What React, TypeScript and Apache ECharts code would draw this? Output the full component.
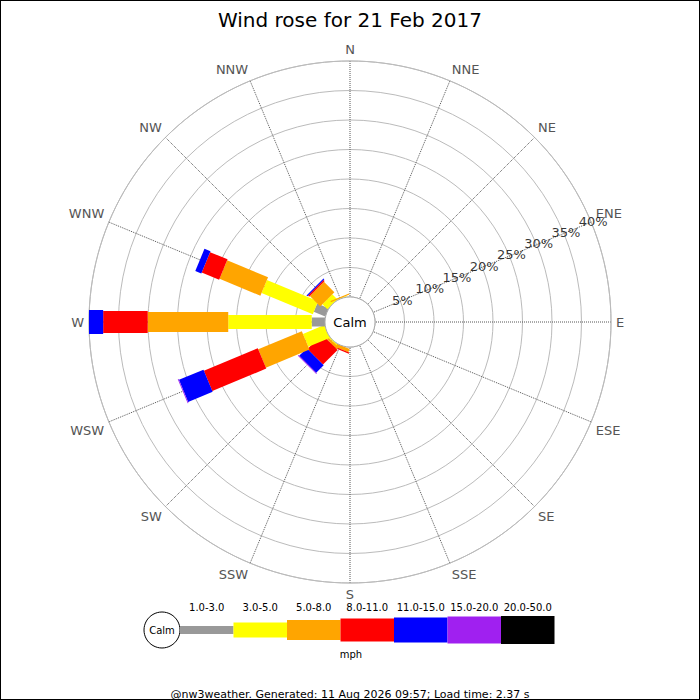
import { useEffect, useRef } from "react";
import * as echarts from "echarts";

const FONT = "DejaVu Sans";

// 16 compass points, clockwise from north
const DIRS = ["N", "NNE", "NE", "ENE", "E", "ESE", "SE", "SSE", "S", "SSW", "SW", "WSW", "W", "WNW", "NW", "NNW"];
const STEP = 360 / DIRS.length;
const RINGS = [5, 10, 15, 20, 25, 30, 35, 40];
const RING_LABELS = ["5%", "10%", "15%", "20%", "25%", "30%", "35%", "40%"];

const BIN_LABELS = ["1.0-3.0", "3.0-5.0", "5.0-8.0", "8.0-11.0", "11.0-15.0", "15.0-20.0", "20.0-50.0"];
const BIN_COLORS = ["#999999", "#ffff00", "#ffa500", "#ff0000", "#0000ff", "#a020f0", "#000000"];
const BAR_WIDTHS = [9, 14, 20, 22, 24, 26, 28];
const LEG_HEIGHTS = [8, 15, 20, 23, 25, 27, 28];

// % of time per direction, one array per speed bin (order = DIRS)
const S_1_3   = [0, 0, 0, 0, 0, 0, 0, 0, 0, 0,   0,    0,    2.25,  2.1, 0,    0];
const S_3_5   = [0, 0, 0, 0, 0, 0, 0, 0, 0, 0,   0.2,  3.9,  14.15, 9.4, 1.2,  0.1];
const S_5_8   = [0, 0, 0, 0, 0, 0, 0, 0, 0, 0.6, 0.4,  8.0,  13.65, 7.5, 2.5,  0.2];
const S_8_11  = [0, 0, 0, 0, 0, 0, 0, 0, 0, 0.2, 3.5,  9.9,  7.55,  3.2, 0.25, 0];
const S_11_15 = [0, 0, 0, 0, 0, 0, 0, 0, 0, 0,   1.8,  4.5,  2.4,   1.1, 0.2,  0];
const S_15_20 = [0, 0, 0, 0, 0, 0, 0, 0, 0, 0,   0.15, 0.15, 0,     0,   0,    0];
const S_20_50 = [0, 0, 0, 0, 0, 0, 0, 0, 0, 0,   0,    0,    0,     0,   0,    0];
const BINS = [S_1_3, S_3_5, S_5_8, S_8_11, S_11_15, S_15_20, S_20_50];

const TITLE = "Wind rose for 21 Feb 2017";
const FOOTER = "@nw3weather. Generated: 11 Aug 2026 09:57; Load time: 2.37 s";

const centered = { align: "center", verticalAlign: "middle", textAlign: "center", textVerticalAlign: "middle" };

export default function App() {
  const ref = useRef<HTMLDivElement>(null);

  useEffect(() => {
    if (!ref.current) return;
    const chart = echarts.init(ref.current, undefined, { renderer: "svg" });

    // stacked segments: [end, angle, start, binIndex]
    const segs: number[][] = [];
    DIRS.forEach((_, d) => {
      let acc = 0;
      BINS.forEach((bin, k) => {
        const v = bin[d];
        if (v > 0) segs.push([acc + v, d * STEP, acc, k]);
        acc += v;
      });
    });

    // speed key below the rose
    const legX0 = 180, legW = 53.5, legCY = 630;
    const legend: any[] = [
      { type: "circle", shape: { cx: 162, cy: legCY, r: 18 }, style: { fill: "#fff", stroke: "#000", lineWidth: 1 } },
      { type: "text", x: 162, y: legCY, style: { text: "Calm", ...centered, font: `10px ${FONT}`, fill: "#000" } },
    ];
    BIN_LABELS.forEach((lab, k) => {
      legend.push({
        type: "rect",
        shape: { x: legX0 + k * legW, y: legCY - LEG_HEIGHTS[k] / 2, width: legW, height: LEG_HEIGHTS[k] },
        style: { fill: BIN_COLORS[k] },
      });
      legend.push({
        type: "text", x: legX0 + (k + 0.5) * legW, y: 607,
        style: { text: lab, ...centered, font: `10px ${FONT}`, fill: "#000" },
      });
    });
    legend.push({ type: "text", x: 351, y: 654, style: { text: "mph", ...centered, font: `10px ${FONT}`, fill: "#000" } });

    chart.setOption({
      animation: false,
      backgroundColor: "#fff",
      textStyle: { fontFamily: FONT },
      title: [
        { text: TITLE, left: "center", top: 5, textStyle: { fontSize: 20, fontWeight: "normal", color: "#000", fontFamily: FONT } },
        { text: FOOTER, left: "center", top: 684, textStyle: { fontSize: 11, fontWeight: "normal", color: "#000", fontFamily: FONT } },
      ],
      polar: { center: [350, 322], radius: [25, 261] },
      angleAxis: {
        type: "value",
        min: 0, max: 360, interval: STEP,
        startAngle: 90,
        clockwise: true,
        axisLine: { show: true, lineStyle: { color: "#bbb", width: 1 } },
        axisTick: { show: false },
        axisLabel: {
          color: "#555", fontSize: 13, margin: 5, fontFamily: FONT,
          formatter: (v: number) => DIRS[Math.round(v / STEP) % DIRS.length],
        },
        splitLine: { show: true, lineStyle: { color: "#555", type: "dotted", width: 1 } },
      },
      radiusAxis: {
        type: "value",
        min: 0, max: 40, interval: 5,
        axisLine: { show: false },
        axisTick: { show: false },
        axisLabel: { show: false },
        splitLine: { show: true, lineStyle: { color: "#bbb", width: 1 } },
      },
      series: [
        {
          type: "custom",
          coordinateSystem: "polar",
          silent: true,
          data: segs,
          renderItem: (params: any, api: any) => {
            const cs = params.coordSys;
            const end = api.value(0), ang = api.value(1), start = api.value(2), k = api.value(3);
            const p0 = api.coord([start, ang]);
            const p1 = api.coord([end, ang]);
            const ux = p1[0] - cs.cx, uy = p1[1] - cs.cy;
            const len = Math.hypot(ux, uy) || 1;
            const nx = -uy / len, ny = ux / len;
            const h = BAR_WIDTHS[k] / 2;
            return {
              type: "polygon",
              shape: {
                points: [
                  [p0[0] + nx * h, p0[1] + ny * h],
                  [p1[0] + nx * h, p1[1] + ny * h],
                  [p1[0] - nx * h, p1[1] - ny * h],
                  [p0[0] - nx * h, p0[1] - ny * h],
                ],
              },
              style: { fill: BIN_COLORS[k] },
            };
          },
          z: 2,
        },
        {
          type: "custom",
          coordinateSystem: "polar",
          silent: true,
          data: [[0, 0]],
          renderItem: (params: any) => {
            const cs = params.coordSys;
            return {
              type: "group",
              children: [
                { type: "circle", shape: { cx: cs.cx, cy: cs.cy, r: cs.r0 }, style: { fill: "#fff", stroke: "#aaa", lineWidth: 1 } },
                { type: "text", x: cs.cx, y: cs.cy, style: { text: "Calm", ...centered, font: `13px ${FONT}`, fill: "#000" } },
              ],
            };
          },
          z: 3,
        },
        {
          type: "scatter",
          coordinateSystem: "polar",
          silent: true,
          symbolSize: 1,
          itemStyle: { color: "transparent" },
          data: RINGS.map((r) => [r, DIRS.indexOf("ENE") * STEP]),
          label: {
            show: true,
            position: "inside",
            offset: [2, -1],
            formatter: (p: any) => RING_LABELS[p.dataIndex],
            color: "#000",
            fontSize: 13,
            fontFamily: FONT,
          },
          z: 4,
        },
      ],
      graphic: legend,
    });

    return () => chart.dispose();
  }, []);

  return (
    <div style={{ position: "fixed", left: 0, top: 0, width: 700, height: 700, background: "#fff" }}>
      <div ref={ref} style={{ width: 700, height: 700 }} />
      <div style={{ position: "absolute", left: 0, top: 0, width: 700, height: 700, boxSizing: "border-box", border: "1px solid #000", pointerEvents: "none" }} />
    </div>
  );
}
